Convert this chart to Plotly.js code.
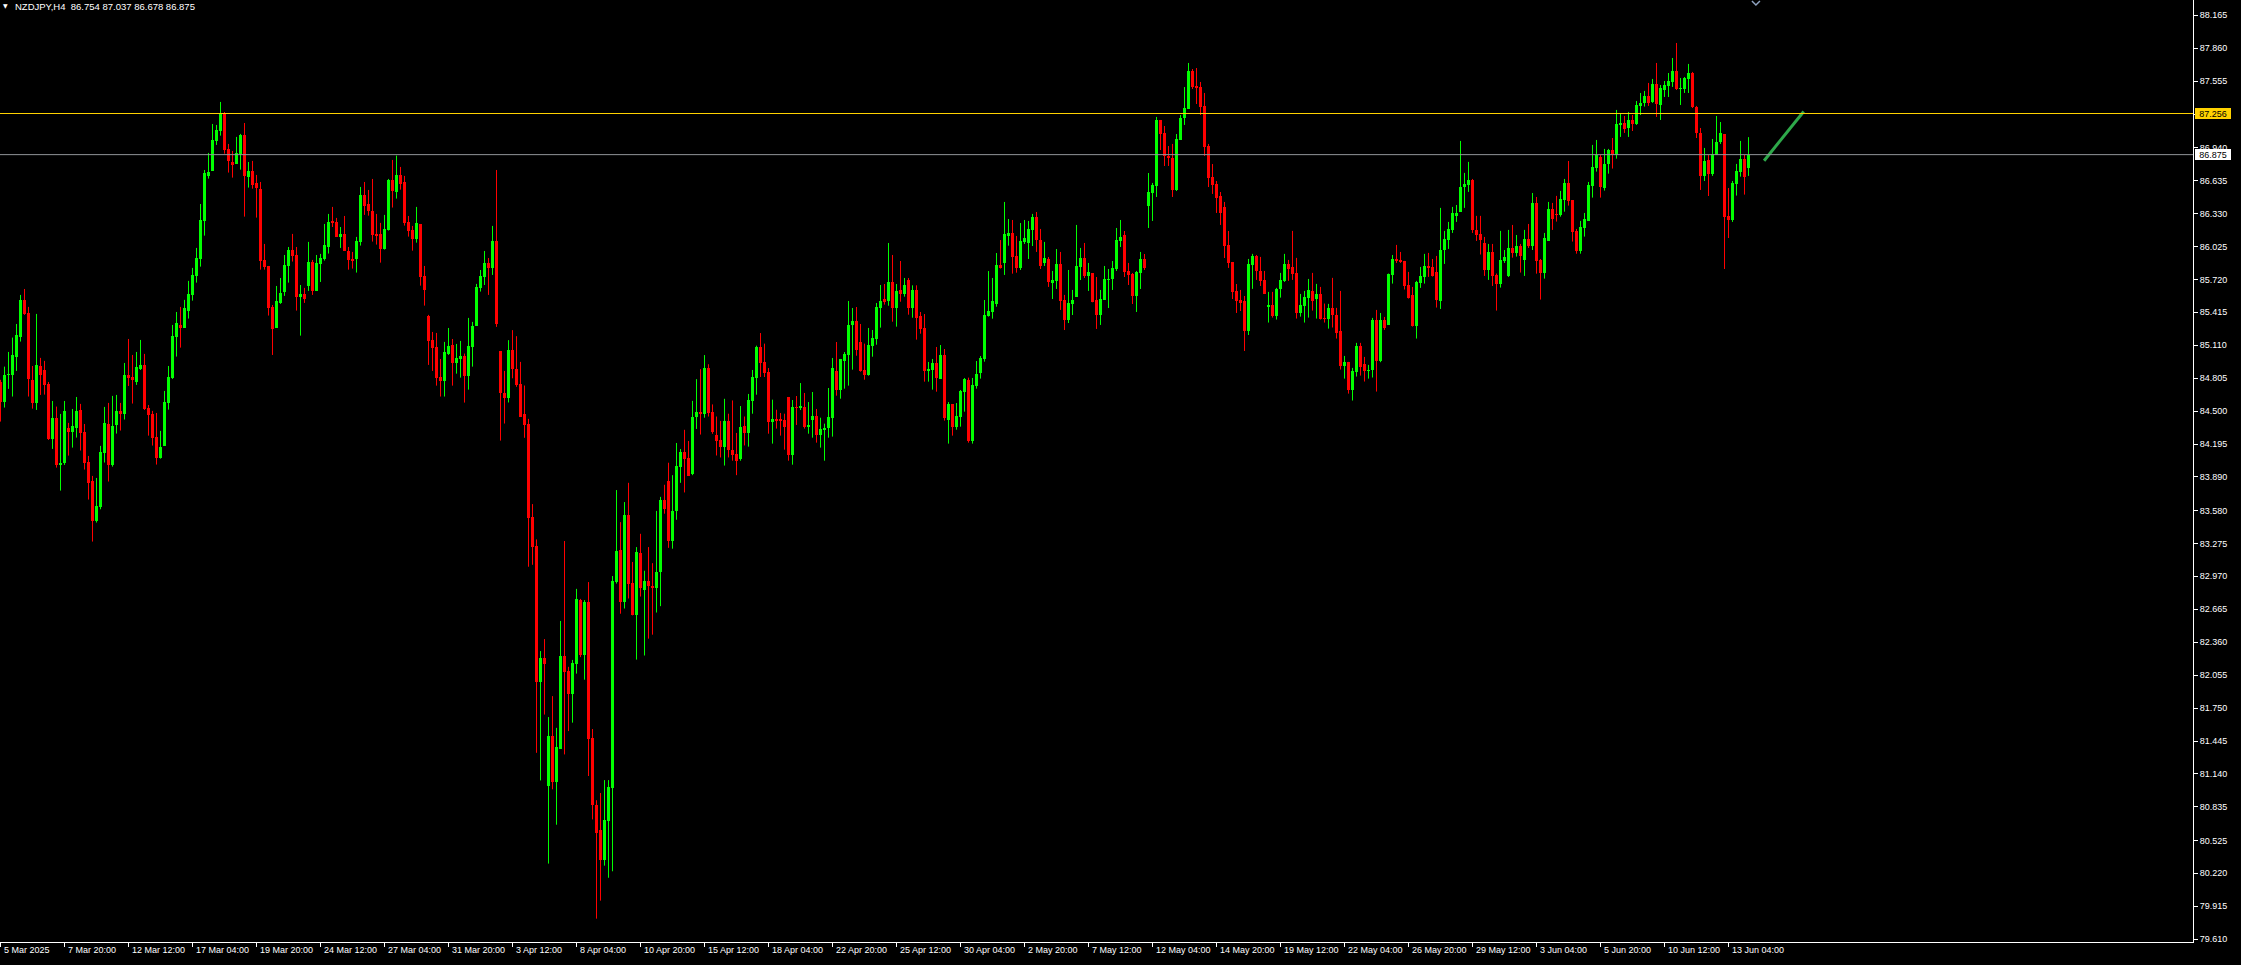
<!DOCTYPE html>
<html><head><meta charset="utf-8">
<script src="https://cdn.plot.ly/plotly-3.0.1.min.js"></script>
<style>html,body{margin:0;padding:0;background:#000;overflow:hidden}#chart{width:2241px;height:965px}</style>
</head><body><div id="chart"></div>
<script>
const symbol = 'NZDJPY,H4';

const open = [
84.770,84.588,84.835,84.835,85.005,85.190,85.530,85.412,84.789,84.573,
84.918,84.881,84.752,84.239,84.437,84.002,84.024,84.344,84.310,84.347,
84.511,84.307,84.030,83.854,83.486,83.616,84.116,84.381,84.002,84.372,
84.502,84.474,84.835,84.816,84.770,84.891,84.928,84.530,84.474,84.261,
84.067,84.178,84.576,84.807,85.187,85.298,85.273,85.431,85.576,85.755,
85.912,86.264,86.678,86.727,87.002,87.097,87.261,86.928,86.810,86.792,
86.881,87.057,86.672,86.724,86.613,86.557,85.900,85.844,85.465,85.273,
85.502,85.604,85.848,85.993,85.946,85.560,85.585,85.662,85.881,85.616,
85.866,85.912,86.023,86.261,86.252,86.116,86.141,85.983,85.909,85.912,
86.070,86.502,86.418,86.354,86.141,86.141,86.005,86.181,86.641,86.533,
86.687,86.622,86.252,86.178,86.098,86.233,85.752,85.381,85.159,85.094,
84.820,84.783,85.030,85.113,84.949,84.986,85.014,84.829,85.098,85.289,
85.641,85.746,85.872,85.829,86.076,85.057,84.668,84.625,85.068,84.889,
84.751,84.472,84.383,83.520,83.252,81.988,82.214,81.031,81.493,81.065,
81.374,82.233,82.095,81.876,82.155,82.754,82.240,82.731,81.474,80.856,
80.622,80.339,80.704,81.013,82.918,83.215,82.735,83.539,82.910,82.612,
83.185,82.847,82.929,82.880,82.865,83.010,83.676,83.855,83.301,83.576,
83.985,84.123,84.067,83.918,84.446,84.491,84.469,84.900,84.491,84.283,
84.234,84.167,84.409,84.141,84.104,84.056,84.361,84.298,84.597,84.810,
85.097,84.955,84.865,84.402,84.430,84.430,84.421,84.631,84.097,84.538,
84.529,84.538,84.353,84.418,84.455,84.279,84.328,84.344,84.440,84.872,
84.699,84.967,85.023,85.297,85.334,85.140,84.881,84.838,85.106,85.171,
85.458,85.538,85.520,85.696,85.458,85.622,85.585,85.714,85.458,85.622,
85.381,85.270,84.872,84.881,84.946,84.801,85.020,84.421,84.566,84.353,
84.446,84.680,84.788,84.226,84.736,84.856,84.986,85.384,85.421,85.495,
85.853,85.875,86.125,86.150,85.937,85.826,86.067,86.057,86.177,86.298,
86.085,85.872,85.909,85.687,85.705,85.863,85.529,85.344,85.492,85.557,
85.835,85.918,85.751,85.779,85.529,85.390,85.529,85.714,85.724,85.816,
86.076,86.131,85.798,85.770,85.566,85.779,85.909,86.400,86.520,86.585,
87.196,87.075,86.863,86.844,86.548,87.011,87.214,87.298,87.650,87.511,
87.501,87.325,86.955,86.668,86.603,86.492,86.390,86.039,85.881,85.612,
85.529,85.520,85.242,85.853,85.937,85.798,85.715,85.468,85.483,85.385,
85.632,85.706,85.863,85.835,85.780,85.412,85.477,85.551,85.613,85.542,
85.585,85.366,85.357,85.456,85.394,85.243,84.922,84.956,84.699,84.866,
85.104,84.937,84.875,84.885,85.345,84.962,85.345,85.302,85.764,85.909,
85.900,85.891,85.669,85.576,85.289,85.687,85.746,85.845,85.835,85.789,
85.524,85.993,86.085,86.178,86.308,86.348,86.576,86.595,86.641,86.178,
86.141,86.058,85.808,85.974,85.764,85.681,85.894,85.752,86.011,85.968,
86.029,85.900,86.094,86.029,86.428,85.903,85.783,86.079,86.372,86.326,
86.317,86.455,86.613,86.455,86.168,85.986,86.199,86.261,86.588,86.755,
86.853,86.570,86.789,86.918,86.872,87.150,87.168,87.122,87.196,87.159,
87.326,87.354,87.418,87.363,87.529,87.335,87.474,87.511,87.548,87.650,
87.483,87.483,87.579,87.631,87.316,87.076,86.678,86.826,86.696,86.872,
86.992,87.066,86.307,86.270,86.607,86.718,86.835,86.754];

const high = [
84.790,84.912,85.048,85.181,85.307,85.576,85.631,85.465,84.918,85.400,
84.993,84.965,84.770,84.594,84.542,84.474,84.594,84.391,84.520,84.631,
84.567,84.381,84.085,83.900,83.881,84.178,84.539,84.576,84.641,84.650,
84.576,84.946,85.168,85.020,85.048,85.159,85.030,84.557,84.502,84.483,
84.317,84.687,84.918,85.298,85.418,85.465,85.530,85.706,85.826,86.011,
86.418,86.733,86.891,87.159,87.150,87.363,87.270,86.974,86.909,87.039,
87.067,87.168,86.807,86.817,86.687,86.622,86.048,85.844,85.483,85.659,
85.733,85.946,86.020,86.141,86.020,85.668,85.641,86.067,85.900,85.946,
85.956,86.233,86.326,86.391,86.289,86.205,86.307,86.020,85.974,86.113,
86.576,86.622,86.548,86.650,86.326,86.243,86.317,86.650,86.826,86.866,
86.761,86.678,86.307,86.215,86.391,86.233,85.844,85.391,85.233,85.224,
84.983,85.141,85.270,85.168,85.122,85.150,85.033,85.363,85.326,85.678,
85.807,85.983,85.918,86.215,86.733,85.057,84.872,85.157,85.250,85.194,
84.956,84.737,84.428,83.639,83.312,82.278,82.389,81.667,81.861,81.567,
82.557,83.297,82.132,82.196,82.854,82.761,82.750,82.917,81.556,80.897,
80.964,81.083,81.083,82.973,83.769,83.472,83.658,83.836,83.103,83.241,
83.364,83.022,83.241,83.092,83.576,83.706,83.818,84.022,83.907,84.205,
84.149,84.327,84.223,84.595,84.796,84.889,85.019,84.934,84.562,84.450,
84.409,84.614,84.476,84.599,84.298,84.547,84.450,84.659,84.881,85.106,
85.223,85.125,84.899,84.606,84.513,84.483,84.476,84.631,84.603,84.640,
84.760,84.668,84.584,84.677,84.520,84.439,84.384,84.714,84.992,85.140,
84.983,85.047,85.520,85.455,85.464,85.307,85.125,85.270,85.251,85.501,
85.668,85.677,86.057,85.946,85.677,85.890,85.733,85.733,85.665,85.665,
85.418,85.399,84.955,84.983,85.094,85.112,85.075,84.584,84.566,84.575,
84.696,84.807,84.810,84.807,84.964,85.010,85.529,85.797,85.733,85.964,
86.084,86.437,86.279,86.270,86.122,86.242,86.270,86.261,86.326,86.344,
86.187,86.067,85.927,85.798,86.001,85.974,85.576,85.807,85.622,86.224,
86.011,86.057,85.872,85.779,85.742,85.622,85.844,85.816,85.890,86.196,
86.270,86.168,85.872,85.779,85.798,85.974,85.955,86.705,86.613,87.224,
87.196,87.140,86.955,86.974,87.066,87.242,87.501,87.724,87.668,87.677,
87.548,87.446,86.974,86.788,86.631,86.529,86.437,86.168,85.881,85.677,
85.622,85.566,85.909,85.956,85.946,85.928,85.798,85.604,85.604,85.641,
85.780,85.956,85.900,86.169,85.919,85.585,85.613,85.724,85.780,85.678,
85.650,85.496,85.493,85.734,85.456,85.613,85.011,84.956,84.900,85.132,
85.132,85.002,84.928,85.363,85.437,85.409,85.372,85.774,85.946,86.039,
85.974,85.891,85.789,85.650,85.706,85.835,85.956,85.965,85.909,85.937,
86.382,86.169,86.252,86.391,86.409,87.002,86.706,86.808,86.650,86.308,
86.308,86.113,86.048,86.048,85.774,86.169,85.992,86.178,86.224,86.131,
86.048,86.178,86.233,86.520,86.483,85.909,86.150,86.437,86.428,86.493,
86.539,86.650,86.816,86.455,86.187,86.261,86.335,86.622,86.965,87.011,
86.872,86.928,86.928,87.029,87.289,87.252,87.233,87.270,87.242,87.372,
87.446,87.465,87.539,87.576,87.724,87.520,87.557,87.631,87.770,87.909,
87.585,87.594,87.715,87.641,87.326,87.122,86.937,86.872,87.020,87.233,
87.177,87.066,86.566,86.631,86.789,87.002,86.872,87.037];

const low = [
84.403,84.533,84.706,84.635,84.872,85.144,85.391,84.635,84.523,84.511,
84.650,84.653,84.233,84.150,83.977,83.764,84.002,84.088,84.162,84.255,
84.135,83.959,83.681,83.292,83.468,83.591,84.024,83.848,83.986,84.292,
84.320,84.422,84.733,84.570,84.743,84.881,84.511,84.273,84.181,84.005,
84.060,84.178,84.514,84.798,85.005,85.088,85.273,85.357,85.523,85.690,
85.838,86.125,86.653,86.727,86.965,87.051,86.884,86.709,86.662,86.792,
86.736,86.301,86.570,86.560,86.292,85.810,85.810,85.385,85.020,85.273,
85.493,85.567,85.690,85.885,85.431,85.199,85.502,85.613,85.576,85.616,
85.696,85.894,85.959,86.205,86.116,86.011,85.986,85.810,85.820,85.783,
86.033,86.317,86.310,86.070,86.042,85.875,85.996,86.172,86.385,86.468,
86.551,86.218,86.116,85.986,86.060,85.662,85.477,84.928,84.872,84.736,
84.635,84.635,85.020,84.736,84.847,84.810,84.579,84.699,84.912,85.289,
85.607,85.668,85.576,85.761,85.280,84.227,84.385,84.580,84.804,84.725,
84.450,84.253,83.059,83.077,81.336,81.080,81.690,80.310,80.998,80.670,
81.374,81.321,81.537,81.615,82.069,82.222,82.013,81.121,80.719,79.800,
79.967,80.291,80.179,80.239,82.903,82.624,82.672,82.765,82.609,82.199,
82.783,82.237,82.393,82.430,82.635,82.694,83.550,83.234,83.226,83.494,
83.836,83.747,83.903,83.907,84.335,84.283,84.439,84.450,84.290,84.089,
84.071,83.996,84.071,84.041,83.907,84.041,84.182,84.171,84.476,84.652,
84.816,84.816,84.291,84.199,84.338,84.273,84.143,84.041,84.004,84.372,
84.510,84.338,84.291,84.254,84.208,84.162,84.041,84.254,84.264,84.643,
84.615,84.708,84.736,84.884,85.013,84.865,84.791,84.828,85.004,85.115,
85.273,85.486,85.476,85.328,85.282,85.513,85.560,85.393,85.365,85.162,
85.217,84.773,84.773,84.699,84.680,84.801,84.412,84.199,84.273,84.328,
84.356,84.495,84.208,84.199,84.708,84.801,84.958,85.375,85.356,85.467,
85.820,85.761,86.032,85.773,85.782,85.807,86.048,85.909,86.029,85.974,
85.816,85.844,85.650,85.538,85.631,85.437,85.251,85.316,85.390,85.557,
85.714,85.733,85.613,85.508,85.261,85.298,85.529,85.455,85.622,85.798,
86.020,85.742,85.668,85.492,85.418,85.631,85.807,86.196,86.261,86.483,
86.918,86.770,86.770,86.483,86.538,87.011,87.150,87.298,87.483,87.344,
87.242,86.863,86.575,86.511,86.335,86.224,85.918,85.826,85.538,85.409,
85.427,85.057,85.205,85.632,85.715,85.659,85.588,85.320,85.366,85.348,
85.551,85.696,85.706,85.715,85.357,85.375,85.320,85.366,85.431,85.357,
85.348,85.320,85.264,85.274,85.172,84.885,84.801,84.662,84.598,84.820,
84.829,84.774,84.801,84.811,84.681,84.953,85.252,85.302,85.681,85.872,
85.872,85.626,85.542,85.283,85.172,85.641,85.681,85.743,85.746,85.459,
85.446,85.863,86.002,86.150,86.252,86.345,86.382,86.530,86.150,86.076,
85.950,85.752,85.715,85.659,85.431,85.644,85.872,85.742,85.921,85.931,
85.783,85.752,86.011,85.992,85.773,85.533,85.727,86.079,86.178,86.255,
86.301,86.347,86.403,86.070,85.958,85.958,86.116,86.261,86.477,86.718,
86.477,86.542,86.699,86.746,86.838,87.039,87.076,87.039,87.094,87.150,
87.242,87.320,87.326,87.354,87.224,87.196,87.409,87.409,87.502,87.474,
87.335,87.446,87.446,87.307,87.029,86.548,86.631,86.492,86.678,86.872,
86.974,85.816,86.103,86.252,86.496,86.671,86.505,86.678];

const close = [
84.588,84.835,84.844,85.020,85.206,85.530,85.400,84.795,84.573,84.928,
84.832,84.746,84.239,84.437,84.002,84.021,84.502,84.310,84.363,84.502,
84.301,84.024,83.838,83.486,83.622,84.122,84.391,84.005,84.363,84.502,
84.474,84.835,84.807,84.789,84.909,84.928,84.520,84.465,84.255,84.070,
84.168,84.585,84.817,85.196,85.317,85.270,85.456,85.585,85.761,85.918,
86.270,86.706,86.715,87.011,87.104,87.252,86.918,86.820,86.783,86.891,
87.057,86.681,86.727,86.597,86.570,85.894,85.838,85.459,85.264,85.520,
85.594,85.854,85.993,85.940,85.560,85.585,85.542,85.881,85.616,85.872,
85.918,86.039,86.252,86.243,86.116,86.141,85.986,85.903,85.894,86.076,
86.502,86.403,86.357,86.135,86.125,86.005,86.187,86.641,86.542,86.687,
86.607,86.246,86.172,86.098,86.243,85.746,85.625,85.153,85.088,84.810,
84.783,85.048,85.104,84.949,84.993,85.011,84.829,85.104,85.289,85.650,
85.752,85.872,85.826,86.076,85.310,84.672,84.625,85.068,84.889,84.740,
84.450,84.376,83.509,83.245,81.995,82.214,82.162,81.493,81.065,81.388,
82.233,82.080,81.876,82.170,82.761,82.240,82.731,81.467,80.856,80.589,
80.339,80.715,81.020,82.929,83.204,82.735,83.539,82.899,82.612,83.196,
82.865,82.929,82.877,82.865,83.010,83.676,83.598,83.301,83.576,83.993,
84.123,84.060,83.903,84.446,84.491,84.469,84.900,84.484,84.305,84.219,
84.164,84.409,84.141,84.093,84.041,84.353,84.298,84.603,84.819,85.097,
84.949,84.856,84.402,84.430,84.412,84.412,84.353,84.097,84.538,84.529,
84.547,84.353,84.372,84.455,84.279,84.334,84.344,84.446,84.899,84.699,
84.983,85.029,85.297,85.334,85.069,84.872,84.838,85.112,85.177,85.464,
85.520,85.510,85.696,85.458,85.612,85.588,85.668,85.458,85.622,85.365,
85.263,84.872,84.890,84.946,84.810,85.020,84.440,84.566,84.353,84.455,
84.686,84.797,84.226,84.742,84.844,84.992,85.390,85.427,85.520,85.853,
85.825,86.140,86.153,85.927,85.826,86.076,86.103,86.187,86.298,86.085,
85.844,85.918,85.696,85.714,85.863,85.520,85.344,85.501,85.529,85.844,
85.918,85.751,85.788,85.514,85.390,85.538,85.724,85.724,85.826,86.085,
86.113,85.788,85.761,85.566,85.788,85.909,85.826,86.529,86.594,87.196,
87.066,86.863,86.844,86.548,87.020,87.214,87.307,87.650,87.501,87.492,
87.316,86.946,86.659,86.594,86.474,86.335,86.029,85.872,85.603,85.520,
85.501,85.242,85.863,85.937,85.798,85.706,85.588,85.483,85.385,85.632,
85.715,85.863,85.817,85.771,85.412,85.483,85.557,85.622,85.524,85.585,
85.357,85.357,85.456,85.394,85.227,84.922,84.956,84.699,84.872,85.104,
84.912,84.875,84.881,85.345,84.968,85.345,85.274,85.770,85.909,85.891,
85.882,85.663,85.551,85.289,85.696,85.752,85.845,85.829,85.755,85.530,
85.993,86.095,86.187,86.335,86.335,86.576,86.604,86.641,86.178,86.132,
86.085,85.808,85.974,85.752,85.681,85.900,85.928,86.011,85.968,86.029,
85.937,86.094,86.029,86.428,85.894,85.783,86.103,86.372,86.280,86.317,
86.465,86.613,86.446,86.159,85.986,86.205,86.279,86.594,86.761,86.872,
86.579,86.789,86.918,86.872,87.159,87.168,87.113,87.196,87.159,87.335,
87.354,87.418,87.354,87.529,87.344,87.492,87.520,87.557,87.650,87.483,
87.492,87.585,87.631,87.316,87.076,86.678,86.816,86.696,86.881,86.992,
87.076,86.298,86.270,86.613,86.724,86.835,86.671,86.875];

const xTickIndex = [0,16,32,48,64,80,96,112,128,144,160,176,192,208,224,240,256,272,288,304,320,336,352,368,384,400,416,432];
const xTickLabels = ['5 Mar 2025','7 Mar 20:00','12 Mar 12:00','17 Mar 04:00','19 Mar 20:00','24 Mar 12:00','27 Mar 04:00','31 Mar 20:00','3 Apr 12:00','8 Apr 04:00','10 Apr 20:00','15 Apr 12:00','18 Apr 04:00','22 Apr 20:00','25 Apr 12:00','30 Apr 04:00','2 May 20:00','7 May 12:00','12 May 04:00','14 May 20:00','19 May 12:00','22 May 04:00','26 May 20:00','29 May 12:00','3 Jun 04:00','5 Jun 20:00','10 Jun 12:00','13 Jun 04:00'];
const yTickValues = [88.165,87.860,87.555,87.250,86.940,86.635,86.330,86.025,85.720,85.415,85.110,84.805,84.500,84.195,83.890,83.580,83.275,82.970,82.665,82.360,82.055,81.750,81.445,81.140,80.835,80.525,80.220,79.915,79.610];
const levelValues = [87.256, 86.875];   // horizontal line, bid line
const trendX = [440.9, 450.8];
const trendY = [86.819, 87.275];

const FONT = 'Liberation Sans, Arial, sans-serif';
const UP = '#00ff00', DOWN = '#ff0000';
const YELLOW = '#ffd200';
const n = close.length;
const idx = Array.from({length: n}, (_, i) => i);

function wicks(up) {
  const x = [], y = [];
  idx.forEach(i => {
    if ((close[i] >= open[i]) === up) { x.push(i, i, null); y.push(low[i], high[i], null); }
  });
  return {type: 'scatter', mode: 'lines', x, y, line: {color: up ? UP : DOWN, width: 1}, hoverinfo: 'skip', showlegend: false};
}

const bodies = {
  type: 'bar', x: idx,
  base: idx.map(i => Math.min(open[i], close[i])),
  y: idx.map(i => Math.max(Math.abs(close[i] - open[i]), 0.0093)),
  width: 0.75,
  marker: {color: idx.map(i => close[i] >= open[i] ? UP : DOWN), line: {width: 0}},
  hoverinfo: 'skip', showlegend: false
};

const trend = {type: 'scatter', mode: 'lines', x: trendX, y: trendY, line: {color: '#2ea84a', width: 3}, hoverinfo: 'skip', showlegend: false};

const tickFont = {family: FONT, size: 9, color: '#ffffff'};
const annotations = xTickIndex.map((v, k) => ({
  x: v, xref: 'x', y: 0, yref: 'paper', xanchor: 'left', yanchor: 'top', xshift: 2, yshift: -2,
  text: xTickLabels[k], showarrow: false, font: tickFont, borderpad: 0
}));
annotations.push({
  x: 0, xref: 'paper', y: 1, yref: 'paper', xanchor: 'left', yanchor: 'top', xshift: 14, yshift: 0,
  text: symbol + '\u00a0\u00a0' + [open[n-1], high[n-1], low[n-1], close[n-1]].map(v => v.toFixed(3)).join(' '),
  showarrow: false, font: {family: FONT, size: 9.5, color: '#ffffff'}, borderpad: 0
});
annotations.push({
  x: 0, xref: 'paper', y: 1, yref: 'paper', xanchor: 'left', yanchor: 'top', xshift: 2, yshift: -1,
  text: '\u25BC', showarrow: false, font: {family: 'DejaVu Sans', size: 6, color: '#ffffff'}, borderpad: 0
});
annotations.push({
  x: 1, xref: 'paper', xanchor: 'left', xshift: 2, y: levelValues[0], yref: 'y', yanchor: 'middle',
  text: levelValues[0].toFixed(3), bgcolor: YELLOW, font: {family: FONT, size: 9, color: '#000000'},
  width: 34, height: 9, borderpad: 0, borderwidth: 1, bordercolor: YELLOW, showarrow: false
});
annotations.push({
  x: 1, xref: 'paper', xanchor: 'left', xshift: 2, y: levelValues[1], yref: 'y', yanchor: 'middle',
  text: levelValues[1].toFixed(3), bgcolor: '#ffffff', font: {family: FONT, size: 9, color: '#000000'},
  width: 34, height: 9, borderpad: 0, borderwidth: 1, bordercolor: '#ffffff', showarrow: false
});

const layout = {
  width: 2241, height: 965,
  paper_bgcolor: '#000000', plot_bgcolor: '#000000',
  margin: {l: 0, r: 48, t: 0, b: 23, pad: 0},
  showlegend: false, hovermode: false, bargap: 0,
  xaxis: {
    range: [-0.125, 548.125], showgrid: false, zeroline: false,
    showline: true, linecolor: '#ffffff', linewidth: 1,
    ticks: 'outside', ticklen: 4, tickcolor: '#ffffff', tickwidth: 1,
    tickmode: 'array', tickvals: xTickIndex, showticklabels: false, fixedrange: true
  },
  yaxis: {
    side: 'right', range: [79.584, 88.307], showgrid: false, zeroline: false,
    showline: true, linecolor: '#ffffff', linewidth: 1,
    ticks: 'outside', ticklen: 4, tickcolor: '#ffffff', tickwidth: 1,
    tickmode: 'array', tickvals: yTickValues, ticktext: yTickValues.map(v => v.toFixed(3)),
    tickfont: tickFont, automargin: false, fixedrange: true
  },
  shapes: [
    {type: 'line', xref: 'paper', x0: 0, x1: 1, yref: 'y', y0: levelValues[0], y1: levelValues[0], line: {color: YELLOW, width: 1}, layer: 'above'},
    {type: 'line', xref: 'paper', x0: 0, x1: 1, yref: 'y', y0: levelValues[1], y1: levelValues[1], line: {color: '#909498', width: 1}, layer: 'above'},
    {type: 'path', xref: 'paper', yref: 'paper', xsizemode: 'pixel', ysizemode: 'pixel', xanchor: 0.8007, yanchor: 1,
     path: 'M -4,-1 L 0,-5 L 4,-1', line: {color: '#8fa3c0', width: 1.5}}
  ],
  annotations
};

Plotly.newPlot('chart', [wicks(true), wicks(false), bodies, trend], layout, {staticPlot: true, displayModeBar: false});
</script>
</body></html>
